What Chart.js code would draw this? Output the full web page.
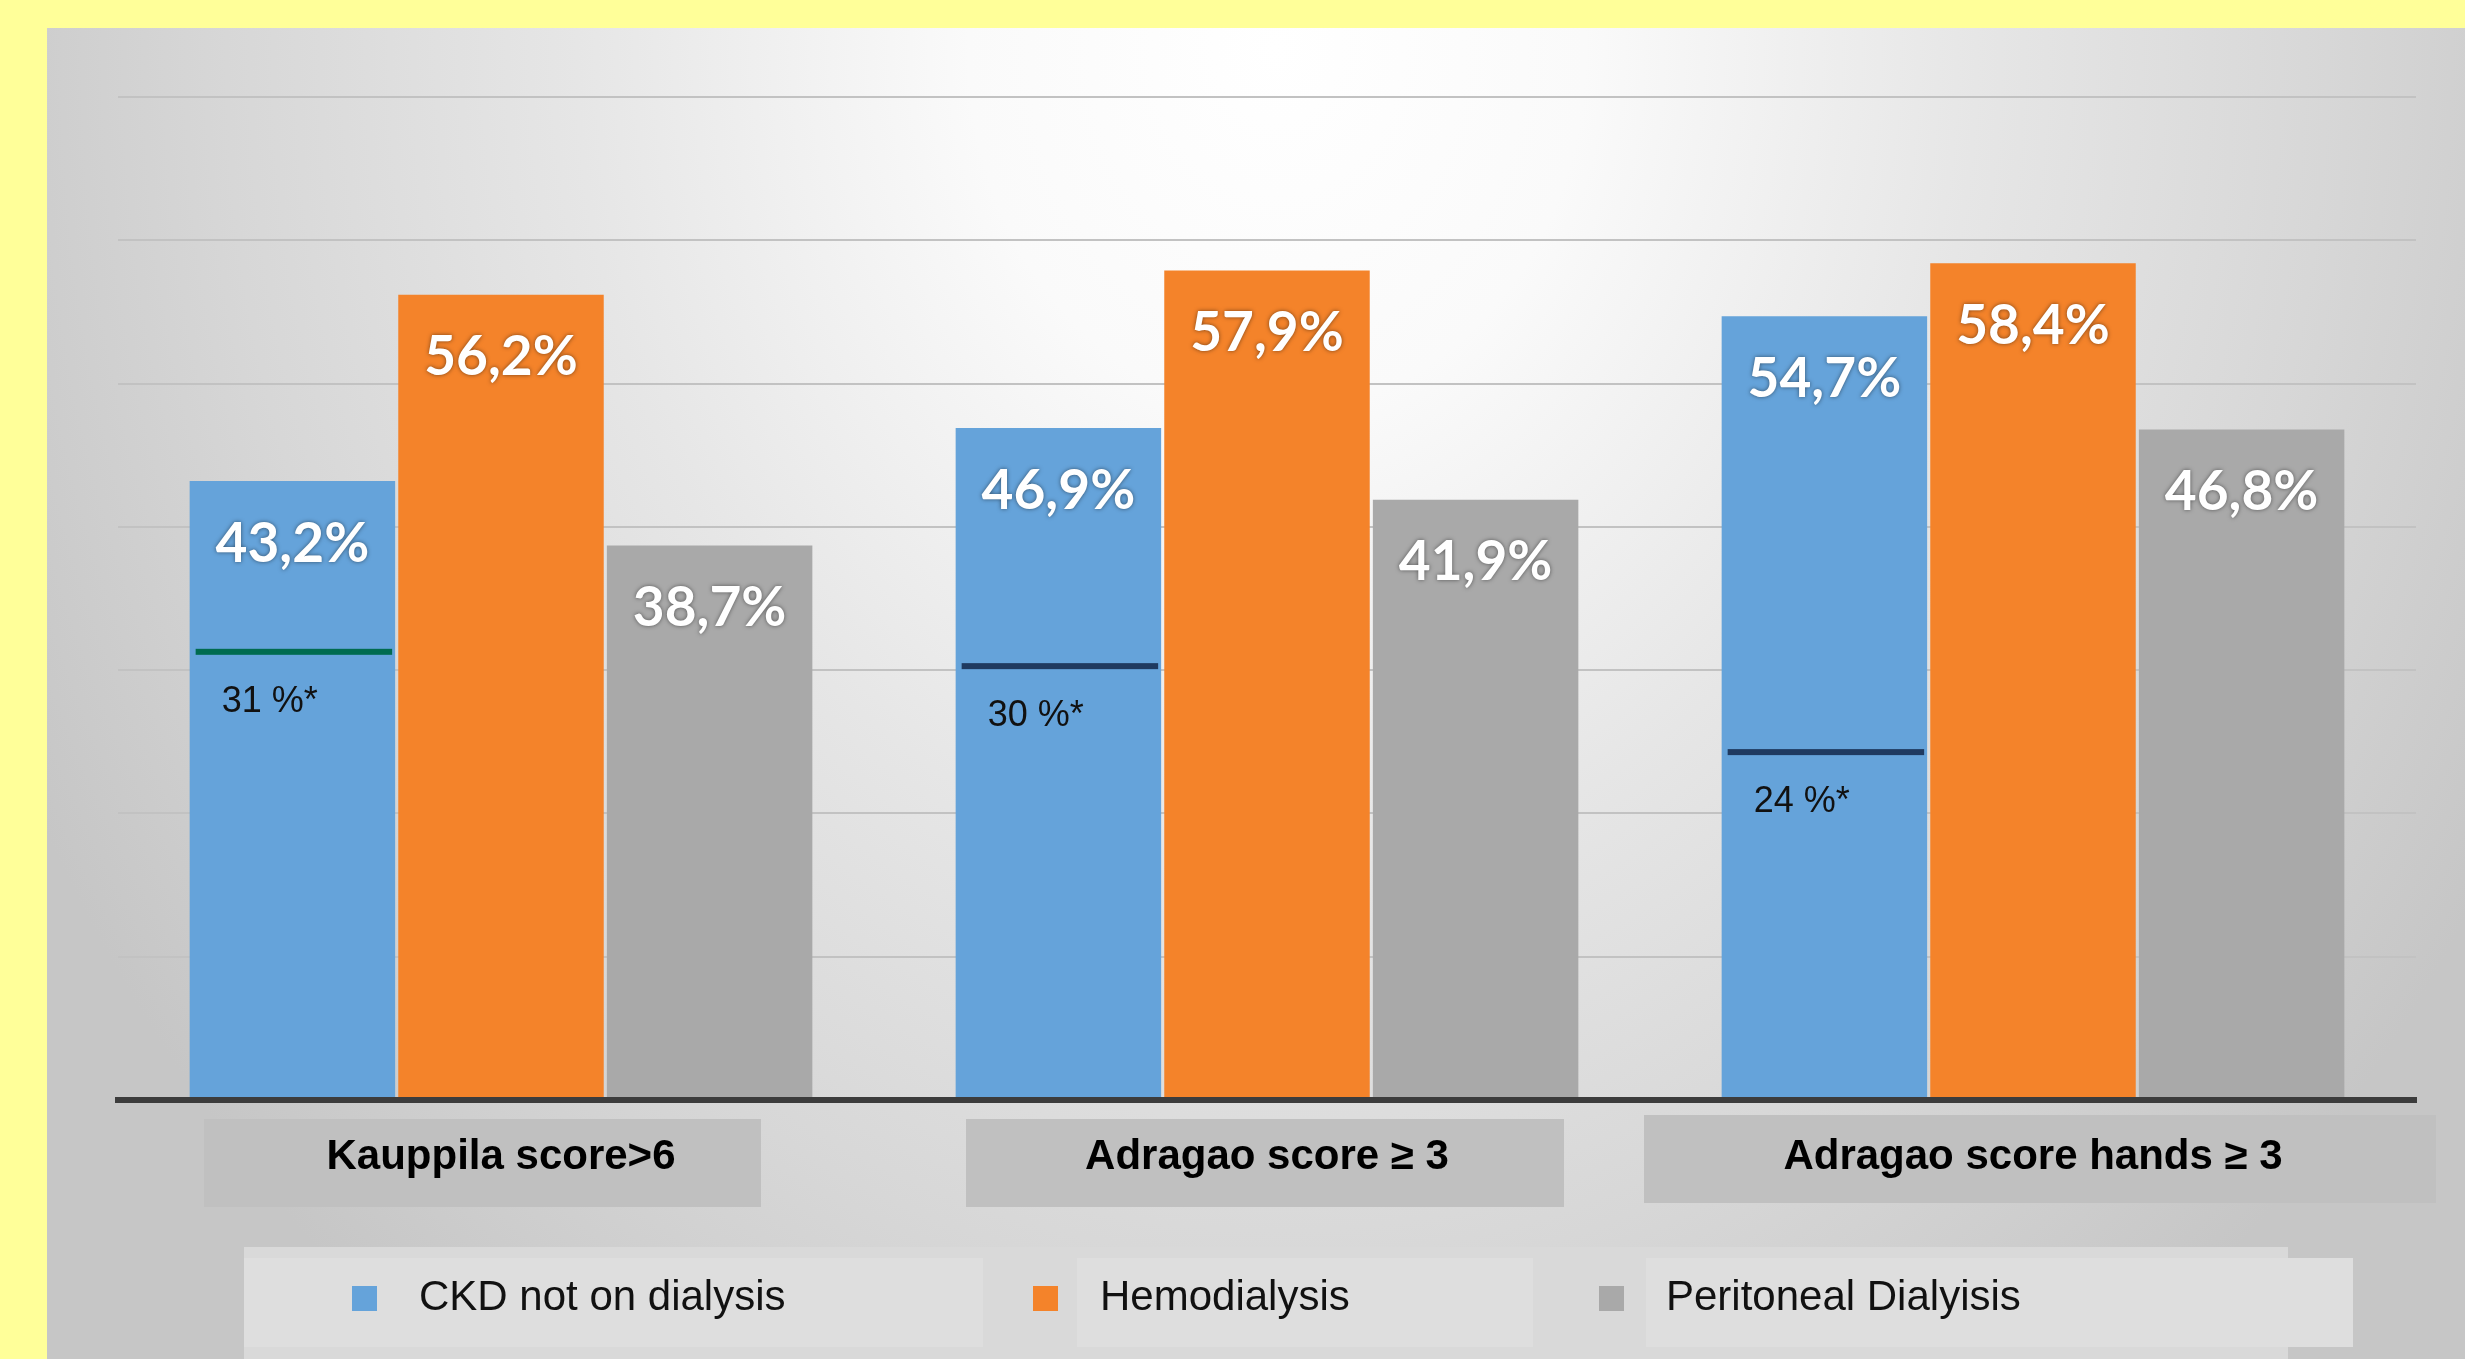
<!DOCTYPE html>
<html>
<head>
<meta charset="utf-8">
<script src="https://cdn.jsdelivr.net/npm/chart.js@4.4.1/dist/chart.umd.min.js"></script>
<style>
  html, body { margin: 0; padding: 0; }
  body { width: 2465px; height: 1359px; background: #ffff99; position: relative; overflow: hidden; }
  #panel {
    position: absolute; left: 47px; top: 28px; width: 2418px; height: 1331px;
    background: radial-gradient(ellipse 1400px 1650px at 1230px 20px, #ffffff 0%, #fafafa 22%, #e6e6e6 50%, #d7d7d7 75%, #c6c6c6 100%);
  }
  #wrap { position: absolute; left: 0; top: 0; width: 2465px; height: 1359px; }
</style>
</head>
<body>
<div id="panel"></div>
<div id="wrap"><canvas id="chart"></canvas></div>
<script>
const categories = ['Kauppila score>6', 'Adragao score \u2265 3', 'Adragao score hands \u2265 3'];
const seriesNames = ['CKD not on dialysis', 'Hemodialysis', 'Peritoneal Dialyisis'];
const ckdValues = [43.2, 46.9, 54.7];
const hemoValues = [56.2, 57.9, 58.4];
const peritonealValues = [38.7, 41.9, 46.8];
// reference marks drawn inside the CKD bars
const refValues = [31, 30, 24];
const refLabels = ['31 %*', '30 %*', '24 %*'];
const yMax = 70;
const yStep = 10;

const colors = ['#65a3da', '#f4832a', '#a9a9a9'];
const refColors = ['#006b4f', '#1f3a60', '#1f3a60'];

function pct(v) {
    return v.toFixed(1).replace('.', ',') + '%';
}

// white value labels near the top of each bar
const valueLabels = {
    id: 'valueLabels',
    afterDatasetsDraw(chart) {
        const ctx = chart.ctx;
        ctx.save();
        ctx.font = 'bold 55px Lato, "Open Sans", sans-serif';
        ctx.fillStyle = '#ffffff';
        ctx.textAlign = 'center';
        ctx.textBaseline = 'middle';
        ctx.shadowColor = 'rgba(0, 0, 0, 0.5)';
        ctx.shadowBlur = 4;
        chart.data.datasets.forEach((ds, i) => {
            chart.getDatasetMeta(i).data.forEach((bar, j) => {
                ctx.fillText(pct(ds.data[j]), bar.x, bar.y + 63);
            });
        });
        ctx.restore();
    }
};

// short horizontal line + note inside the blue bars
const refMarks = {
    id: 'refMarks',
    afterDatasetsDraw(chart) {
        const ctx = chart.ctx;
        const y = chart.scales.y;
        const bars = chart.getDatasetMeta(0).data;
        ctx.save();
        refValues.forEach((v, i) => {
            const bar = bars[i];
            const py = y.getPixelForValue(v) - 4;
            const left = bar.x - bar.width / 2;
            ctx.fillStyle = refColors[i];
            ctx.fillRect(left + 6, py - 3, bar.width - 9, 6);
            ctx.fillStyle = '#111111';
            ctx.font = '36px "Liberation Sans", Arial, sans-serif';
            ctx.textAlign = 'left';
            ctx.textBaseline = 'middle';
            ctx.fillText(refLabels[i], left + 32, py + 50);
        });
        ctx.restore();
    }
};

// grey boxes behind the category labels (left/right reach around each tick)
const catBoxes = {
    id: 'catBoxes',
    beforeDraw(chart) {
        const ctx = chart.ctx;
        const x = chart.scales.x;
        const reach = [[297, 260], [301, 297], [389, 403]];
        const tops = [1119, 1119, 1115];
        ctx.save();
        ctx.fillStyle = '#c0c0c0';
        x.ticks.forEach((t, i) => {
            const px = x.getPixelForTick(i);
            ctx.fillRect(px - reach[i][0], tops[i], reach[i][0] + reach[i][1], 88);
        });
        ctx.restore();
    }
};

// legend drawn in its own grey boxes, like the original slide
const boxLegend = {
    id: 'boxLegend',
    beforeDraw(chart) {
        const ctx = chart.ctx;
        const itemX = [352, 1033, 1599];
        const boxes = [[244, 983], [1077, 1533], [1646, 2353]];
        const cy = 1298;
        ctx.save();
        ctx.fillStyle = '#d9d9d9';
        ctx.fillRect(244, 1247, 2044, 112);
        ctx.fillStyle = '#dedede';
        boxes.forEach(b => ctx.fillRect(b[0], 1258, b[1] - b[0], 89));
        ctx.font = '42px "Liberation Sans", Arial, sans-serif';
        ctx.textBaseline = 'middle';
        ctx.textAlign = 'left';
        chart.data.datasets.forEach((ds, i) => {
            ctx.fillStyle = ds.backgroundColor;
            ctx.fillRect(itemX[i], cy - 12, 25, 25);
            ctx.fillStyle = '#111111';
            ctx.fillText(ds.label, itemX[i] + 67, cy);
        });
        ctx.restore();
    }
};

const ctx = document.querySelector('#chart');
new Chart(ctx, {
    type: 'bar',
    data: {
        labels: categories,
        datasets: [
            { label: seriesNames[0], data: ckdValues, backgroundColor: colors[0] },
            { label: seriesNames[1], data: hemoValues, backgroundColor: colors[1] },
            { label: seriesNames[2], data: peritonealValues, backgroundColor: colors[2] }
        ]
    },
    options: {
        responsive: true,
        maintainAspectRatio: false,
        animation: false,
        layout: { padding: { left: 118, top: 97, right: 49, bottom: 0 } },
        datasets: {
            bar: { categoryPercentage: 0.817, barPercentage: 0.985, borderWidth: 0 }
        },
        plugins: {
            legend: { display: false },
            tooltip: { enabled: false }
        },
        scales: {
            x: {
                grid: { display: false },
                border: { color: '#3c3c3c', width: 6, z: 1 },
                ticks: {
                    color: '#000000',
                    font: { family: '"Liberation Sans", Arial, sans-serif', size: 42, weight: 'bold' },
                    padding: 24,
                    maxRotation: 0,
                    autoSkip: false
                },
                afterFit(scale) { scale.height = 259; }
            },
            y: {
                min: 0,
                max: yMax,
                ticks: { display: false, stepSize: yStep },
                grid: { color: '#c2c2c2', lineWidth: 2, drawTicks: false },
                border: { display: false },
                afterFit(scale) { scale.width = 0; }
            }
        }
    },
    plugins: [catBoxes, boxLegend, valueLabels, refMarks]
});
</script>
</body>
</html>
